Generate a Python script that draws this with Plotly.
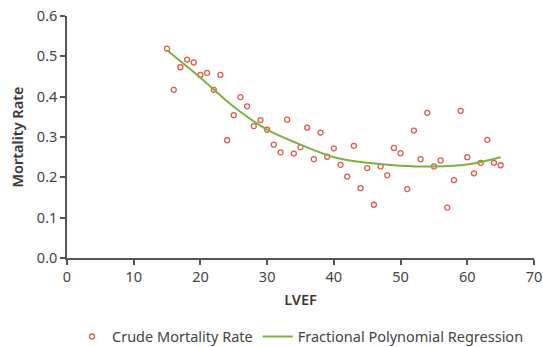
import plotly.graph_objects as go

# Data
lvef = list(range(15, 66))
crude_rate = [0.519, 0.417, 0.473, 0.492, 0.485, 0.454, 0.459, 0.417, 0.454, 0.292,
              0.354, 0.399, 0.376, 0.327, 0.342, 0.318, 0.281, 0.262, 0.343, 0.259,
              0.275, 0.323, 0.245, 0.311, 0.251, 0.272, 0.231, 0.202, 0.278, 0.173,
              0.223, 0.132, 0.227, 0.205, 0.273, 0.260, 0.171, 0.316, 0.245, 0.360,
              0.227, 0.242, 0.125, 0.193, 0.365, 0.250, 0.210, 0.236, 0.293, 0.236,
              0.230]
fit_x = [15, 20, 25, 30, 35, 40, 45, 50, 55, 60, 65]
fit_y = [0.515, 0.447, 0.375, 0.318, 0.281, 0.250, 0.236, 0.229, 0.227, 0.232, 0.250]

x_ticks = [0, 10, 20, 30, 40, 50, 60, 70]
y_ticks = [0.0, 0.1, 0.2, 0.3, 0.4, 0.5, 0.6]

FONT = "Noto Sans"
FS = 14.5
fig = go.Figure()
fig.add_trace(go.Scatter(
    x=lvef, y=crude_rate, mode="markers", name="Crude Mortality Rate",
    marker=dict(symbol="circle-open", size=5, color="#e55a4c", line=dict(width=1.3)),
))
fig.add_trace(go.Scatter(
    x=fit_x, y=fit_y, mode="lines", name="Fractional Polynomial Regression",
    line=dict(color="#7ab33e", width=2, shape="spline", smoothing=1.0),
))

axis_common = dict(showgrid=False, zeroline=False, showline=True, linecolor="#555555",
                   linewidth=1.5, ticks="outside", ticklen=5, tickcolor="#555555",
                   tickwidth=1.5, automargin=False,
                   tickfont=dict(size=FS, color="#444444", family=FONT))
title_font = dict(size=FS, color="#3a3a3a", family=FONT, weight=600)
fig.update_xaxes(range=[0, 70], tickvals=x_ticks, ticktext=[str(v) for v in x_ticks],
                 title=dict(text="LVEF", font=title_font, standoff=10),
                 **axis_common)
fig.update_yaxes(range=[0, 0.6], tickvals=y_ticks, ticktext=[f"{v:.1f}" for v in y_ticks],
                 title=dict(text="Mortality Rate", font=title_font, standoff=10),
                 **axis_common)
fig.update_layout(
    width=543, height=347,
    margin=dict(l=67, r=9, t=16, b=89, autoexpand=False),
    paper_bgcolor="white", plot_bgcolor="white",
    font=dict(family=FONT, size=FS, color="#444444"),
    legend=dict(orientation="h", x=0.5, xanchor="center", xref="paper",
                y=0.03, yanchor="middle", yref="container",
                font=dict(size=FS, color="#444444", family=FONT)),
    showlegend=True,
)
fig.write_html("out.html")
